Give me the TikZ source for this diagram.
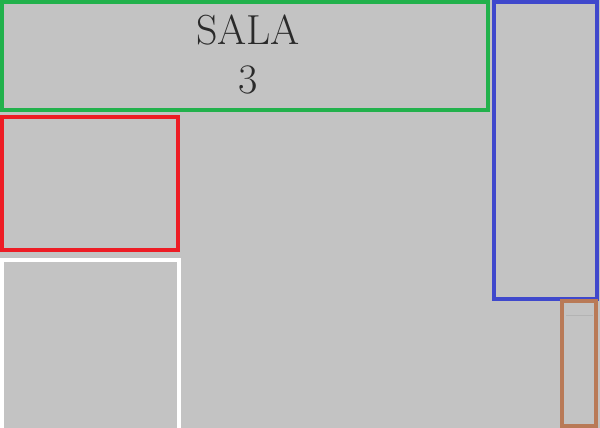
\documentclass[tikz,border=0pt]{standalone}
\definecolor{bg}{HTML}{C3C3C3}
\definecolor{pgreen}{HTML}{22B14C}
\definecolor{pred}{HTML}{ED1C24}
\definecolor{pblue}{HTML}{3F48CC}
\definecolor{pbrown}{HTML}{B97A57}
\definecolor{txt}{HTML}{2A2A2A}
\definecolor{faint}{HTML}{B3B3B3}
\begin{document}
\begin{tikzpicture}[x=1pt,y=-1pt,
  zone/.style={line width=4pt},
  label/.style={anchor=base,inner sep=0pt,text=txt,font=\fontsize{42}{48}\selectfont}]
\useasboundingbox (0,0) rectangle (600,428);
\fill[bg] (0,0) rectangle (600,428);
\begin{scope}
\clip (0,0) rectangle (600,428);
\draw[zone,pgreen] (1.8,1.8) rectangle (487.8,109.8);
\draw[zone,pred] (2,117) rectangle (177.5,250);
\draw[zone,white] (1.5,260) rectangle (179,440);
\draw[zone,pblue] (494,2) rectangle (596.5,298.5);
\draw[zone,pbrown] (561.5,301) rectangle (595.8,426);
\draw[faint,line width=0.8pt] (566,315) -- (593,315);
\end{scope}
\node[label] (sala) at (248,45) {SALA};
\node[label] (num) at (248,93) {3};
\end{tikzpicture}
\end{document}
